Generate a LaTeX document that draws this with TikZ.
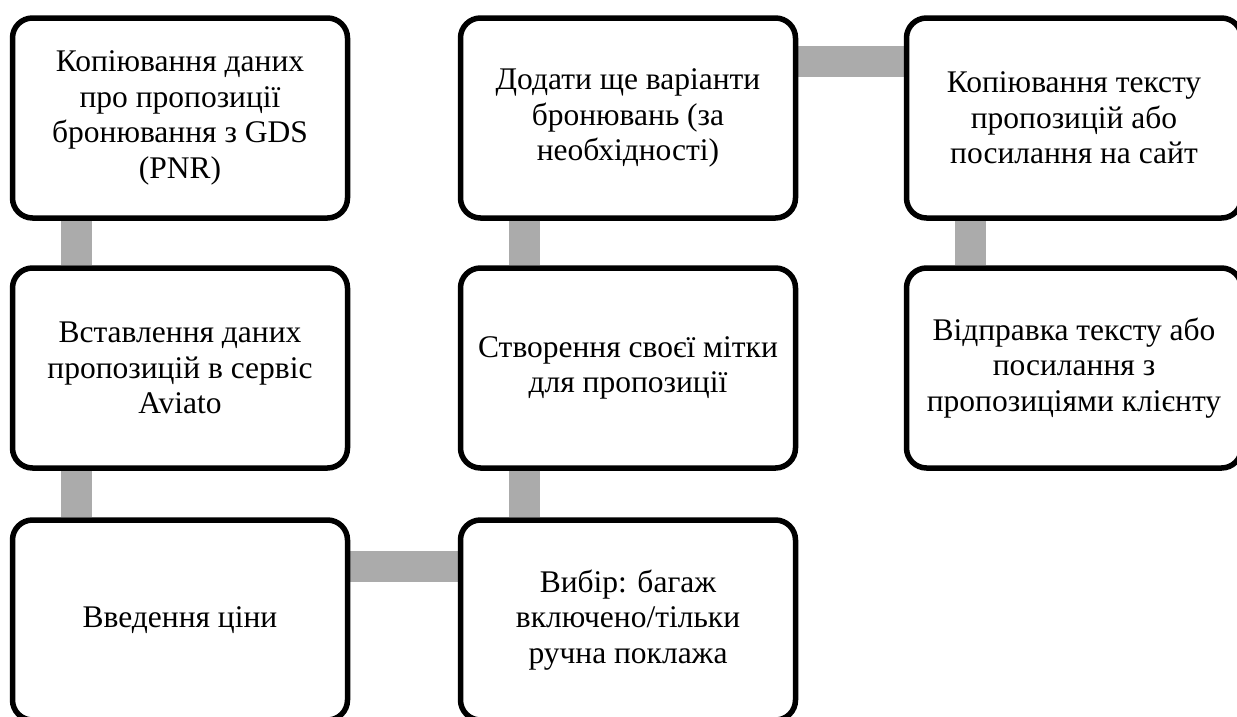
\documentclass[tikz,border=0pt]{standalone}
\usepackage{fontspec}
\setmainfont{Liberation Serif}
\usetikzlibrary{backgrounds}
\begin{document}
\begin{tikzpicture}[x=1pt,y=-1pt,
  stepbox/.style={draw=black, line width=5.5pt, fill=white, rounded corners=20pt,
    minimum width=335pt, minimum height=200pt, align=center, inner sep=0pt,
    font=\fontsize{31.5}{35.5}\selectfont},
  conn/.style={draw=black!33, line width=31pt}]
\useasboundingbox (0,0) rectangle (1237,716);

% first column, top to bottom
\node[stepbox] (a1) at (180,118) {Копіювання даних\\про пропозиції\\бронювання з GDS\\(PNR)};
\node[stepbox] (a2) at (180,368) {Вставлення даних\\пропозицій в сервіс\\Aviato};
\node[stepbox] (a3) at (180,620) {Введення ціни};
% second column, bottom to top
\node[stepbox] (b3) at (628,620) {Вибір: багаж\\включено/тільки\\ручна поклажа};
\node[stepbox] (b2) at (628,368) {Створення своєї мітки\\для пропозиції};
\node[stepbox] (b1) at (628,118) {Додати ще варіанти\\бронювань (за\\необхідності)};
% third column, top to bottom
\node[stepbox] (c1) at (1074,118) {Копіювання тексту\\пропозицій або\\посилання на сайт};
\node[stepbox] (c2) at (1074,368) {Відправка тексту або\\посилання з\\пропозиціями клієнту};

% grey links behind the boxes
\begin{scope}[on background layer]
  \draw[conn] ([xshift=67pt]a1.south west) -- ([xshift=67pt]a2.north west);
  \draw[conn] ([xshift=67pt]a2.south west) -- ([xshift=67pt]a3.north west);
  \draw[conn] ([yshift=-49pt]a3.north east) -- ([yshift=-49pt]b3.north west);
  \draw[conn] ([xshift=67pt]b3.north west) -- ([xshift=67pt]b2.south west);
  \draw[conn] ([xshift=67pt]b2.north west) -- ([xshift=67pt]b1.south west);
  \draw[conn] ([yshift=-46pt]b1.north east) -- ([yshift=-46pt]c1.north west);
  \draw[conn] ([xshift=67pt]c1.south west) -- ([xshift=67pt]c2.north west);
\end{scope}
\end{tikzpicture}
\end{document}
